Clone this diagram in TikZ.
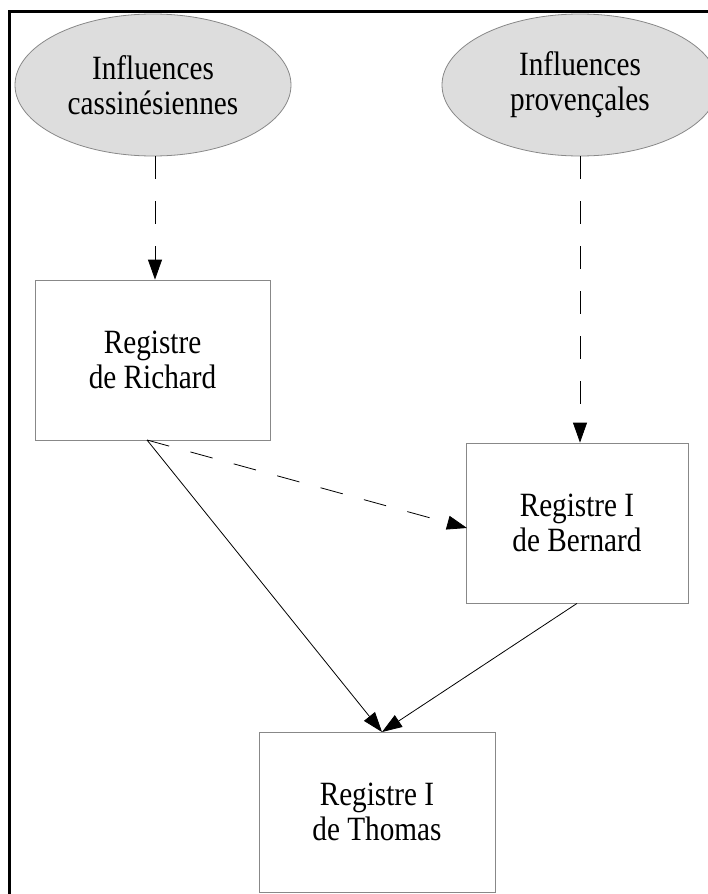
\documentclass[tikz,border=0pt]{standalone}
\usepackage{fontspec}
\setmainfont[FakeStretch=0.86]{Liberation Serif}
\usetikzlibrary{shapes.geometric,arrows.meta}
\definecolor{ellfill}{HTML}{DDDDDD}
\definecolor{edgegray}{HTML}{888888}
\tikzset{
  lbl/.style={font=\fontsize{34}{35}\selectfont, align=center, text=black},
  infl/.style={lbl, ellipse, draw=edgegray, fill=ellfill, line width=0.8pt, minimum width=276pt, minimum height=142pt, inner sep=0pt},
  regbox/.style={lbl, rectangle, draw=edgegray, line width=0.8pt, inner sep=0pt},
  conn/.style={line width=0.8pt, -{Triangle[length=20pt,width=14pt]}},
  dashconn/.style={conn, dash pattern=on 23pt off 22pt},
}
\begin{document}
\begin{tikzpicture}[x=1pt,y=-1pt]
\useasboundingbox (0,0) rectangle (708,894);
\fill[white] (0,0) rectangle (708,894);
% frame
\draw[line width=3pt] (9,894) -- (9,11) -- (710,11);
% ellipses
\node[infl] (cass) at (153,85) {Influences\\cassinésiennes};
\node[infl] (prov) at (580,85) {Influences\\provençales};
% boxes
\node[regbox, minimum width=235pt, minimum height=160pt] (richard) at (152.5,360) {Registre\\de Richard};
\node[regbox, minimum width=222pt, minimum height=160pt] (bernard) at (577,523) {Registre I\\de Bernard};
\node[regbox, minimum width=236pt, minimum height=160pt] (thomas) at (377,812) {Registre I\\de Thomas};
% connector points
\coordinate (rs) at (147,440);
\coordinate (tt) at (382,732);
\coordinate (bw) at (467,528);
% connectors
\draw[dashconn] (cass.south -| 155,0) -- (richard.north -| 155,0);
\draw[dashconn] (prov.south) -- (prov.south |- bernard.north);
\draw[dashconn] (rs) -- (bw);
\draw[conn] (rs) -- (tt);
\draw[conn] (bernard.south) -- (tt);
\end{tikzpicture}
\end{document}
